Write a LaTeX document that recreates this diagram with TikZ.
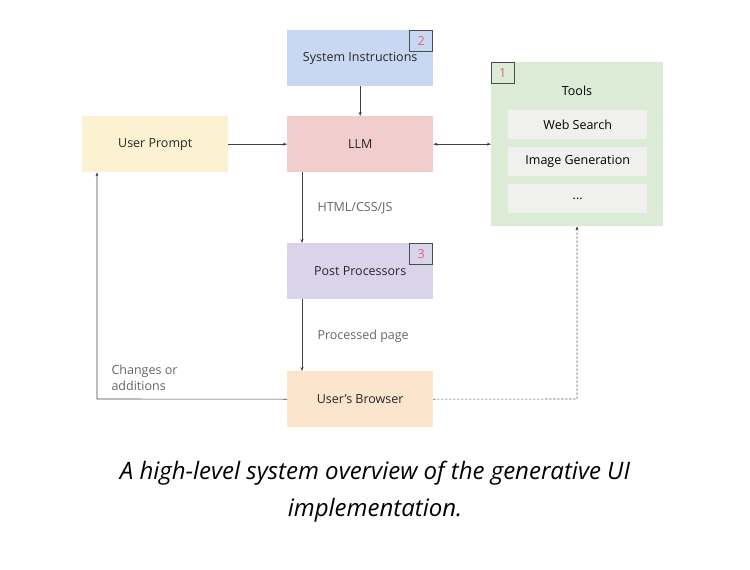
\documentclass[tikz,border=0pt]{standalone}
\usepackage{fontspec}
\setmainfont{Open Sans}
\usetikzlibrary{arrows.meta}
\definecolor{sysc}{HTML}{C9D8F2}
\definecolor{llmc}{HTML}{F2CDCD}
\definecolor{upc}{HTML}{FCF2D2}
\definecolor{toolc}{HTML}{DCEBD6}
\definecolor{itemc}{HTML}{F0F1EF}
\definecolor{ppc}{HTML}{D9D4EA}
\definecolor{brc}{HTML}{FBE5CC}
\definecolor{badge}{HTML}{E06666}
\definecolor{lab}{HTML}{666666}
\begin{document}
\begin{tikzpicture}[x=1pt,y=-1pt,
 box/.style={draw=none,minimum width=146pt,minimum height=56pt,font=\fontsize{12.5}{15}\selectfont,text=black!85},
 item/.style={fill=itemc,minimum width=139pt,minimum height=29pt,font=\fontsize{12.5}{15}\selectfont},
 bdg/.style={draw=black!70,line width=0.6pt,minimum width=23pt,minimum height=21pt,inner sep=0pt,text=badge,font=\fontsize{12.5}{15}\selectfont},
 arr/.style={draw=black!75,line width=0.6pt,-{Stealth[length=4pt,width=3pt]}},
 lbl/.style={text=lab,font=\fontsize{12.5}{16}\selectfont,align=left}]
\useasboundingbox (0,0) rectangle (750,570);
\node[box,fill=sysc,anchor=north west] (sys) at (287,30) {System Instructions};
\node[bdg,anchor=north east] (b2) at (433,30) {2};
\node[box,fill=llmc,anchor=north west] (llm) at (287,116) {LLM};
\node[box,fill=upc,anchor=north west] (up) at (82,116) {User Prompt};
\node[fill=toolc,minimum width=172pt,minimum height=164pt,anchor=north west] (tools) at (491,62) {};
\node[bdg,anchor=north west] (b1) at (491,62) {1};
\node[font=\fontsize{12.5}{15}\selectfont] (tt) at (577,91) {Tools};
\node[item,anchor=north west] (ws) at (508,110) {Web Search};
\node[item,anchor=north west] (ig) at (508,147) {Image Generation};
\node[item,anchor=north west] (dots) at (508,184) {...};
\node[box,fill=ppc,anchor=north west] (pp) at (287,243) {Post Processors};
\node[bdg,anchor=north east] (b3) at (433,243) {3};
\node[box,fill=brc,anchor=north west] (br) at (287,371) {User's Browser};
\coordinate (cl) at (97,399);
\coordinate (cr) at (577,399);
\draw[arr] (sys) -- (llm);
\draw[arr] (up) -- (llm);
\draw[arr,{Stealth[length=4pt,width=3pt]}-{Stealth[length=4pt,width=3pt]}] (llm) -- (tools);
\draw[arr] (llm.south west) ++(15,0) coordinate (a1) -- (a1 |- pp.north);
\draw[arr] (pp.south west) ++(15,0) coordinate (a2) -- (a2 |- br.north);
\draw[arr] (br.west) -- (cl) -- (cl |- up.south);
\draw[arr,dashed,dash pattern=on 2pt off 2pt] (br.east) -- (cr) -- (cr |- tools.south);
\node[lbl,anchor=west] (l1) at (314,208) {HTML/CSS/JS};
\node[lbl,anchor=west] (l2) at (314,336) {Processed page};
\node[lbl,anchor=west] (l3) at (108,378) {Changes or\\additions};
\node[font=\fontsize{24}{37}\itshape\selectfont,align=center] (cap) at (375,492) {A high-level system overview of the generative UI\\implementation.};
\end{tikzpicture}
\end{document}
